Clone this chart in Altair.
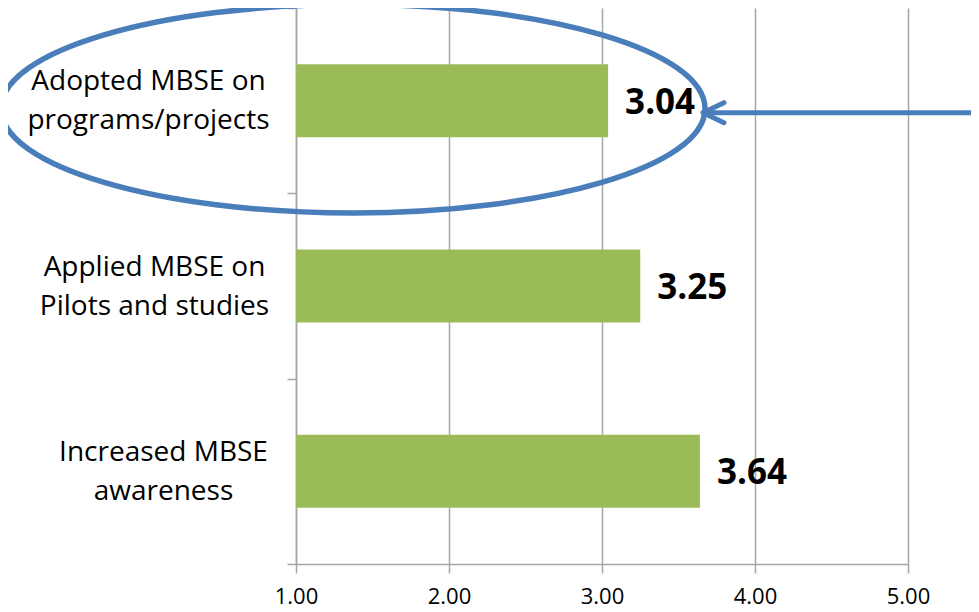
import altair as alt
import pandas as pd

categories = ["Adopted MBSE on|programs/projects", "Applied MBSE on|Pilots and studies", "Increased MBSE|awareness"]
values = [3.04, 3.25, 3.64]
value_labels = ["3.04", "3.25", "3.64"]
base = [1.0, 1.0, 1.0]
label_pad = [139, 133, 124]

# annotation (ellipse around first category, arrow pointing at its label)
ellipse_cat = [categories[0]]
ellipse_x = [1.3725]
arrow_cat = [categories[0]]
arrow_tip = [3.66]
arrow_tail = [5.5]

df = pd.DataFrame({"cat": categories, "value": values, "label": value_labels, "base": base})
df_ell = pd.DataFrame({"cat": ellipse_cat, "x": ellipse_x})
df_arr = pd.DataFrame({"cat": arrow_cat, "tip": arrow_tip, "tail": arrow_tail})

FONT = "Open Sans"
GRID = "#A6A6A6"
BLUE = "#4A7EBB"

xscale = alt.Scale(domain=[1, 5], nice=False, zero=False)
yscale = alt.Scale(domain=categories, paddingInner=0, paddingOuter=0)

pad_cond = {
    "condition": [
        {"test": f"datum.value == '{categories[0]}'", "value": label_pad[0]},
        {"test": f"datum.value == '{categories[1]}'", "value": label_pad[1]},
    ],
    "value": label_pad[2],
}

bars = alt.Chart(df).mark_bar(color="#9BBB59", size=73).encode(
    x=alt.X("value:Q", scale=xscale,
            axis=alt.Axis(values=[1, 2, 3, 4, 5], format=".2f", title=None,
                          grid=True, gridColor=GRID, gridWidth=1.5,
                          domainColor=GRID, domainWidth=1.5,
                          tickColor=GRID, tickWidth=1.5, tickSize=9,
                          labelFont=FONT, labelFontSize=22, labelColor="black",
                          labelFlush=False, labelPadding=13)),
    x2="base:Q",
    y=alt.Y("cat:N", scale=yscale, sort=categories,
            axis=alt.Axis(title=None, tickBand="extent", grid=False,
                          domainColor=GRID, domainWidth=1.5,
                          tickColor=GRID, tickWidth=1.5, tickSize=9,
                          labelExpr="split(datum.label, '|')",
                          labelAlign="center", labelBaseline="middle",
                          labelPadding=pad_cond, labelOffset=-19,
                          labelLineHeight=39,
                          labelFont=FONT, labelFontSize=28, labelColor="black",
                          labelLimit=0)),
)

texts = alt.Chart(df).mark_text(align="left", baseline="middle", dx=17, dy=2,
                                font=FONT, fontSize=35, fontWeight="bold",
                                color="black").encode(
    x=alt.X("value:Q", scale=xscale),
    y=alt.Y("cat:N", scale=yscale, sort=categories),
    text="label:N",
)

k = 0.2963
c = 0.5523
ell_path = (f"M-1,0 C-1,{-c*k:.4f} {-c:.4f},{-k:.4f} 0,{-k:.4f} "
            f"C{c:.4f},{-k:.4f} 1,{-c*k:.4f} 1,0 "
            f"C1,{c*k:.4f} {c:.4f},{k:.4f} 0,{k:.4f} "
            f"C{-c:.4f},{k:.4f} -1,{c*k:.4f} -1,0 Z")

ellipse = alt.Chart(df_ell).mark_point(shape=ell_path, size=704 * 704, filled=False,
                                       stroke=BLUE, strokeWidth=5.5, opacity=1,
                                       yOffset=8).encode(
    x=alt.X("x:Q", scale=xscale),
    y=alt.Y("cat:N", scale=yscale, sort=categories),
)

arrow_line = alt.Chart(df_arr).mark_rule(stroke=BLUE, strokeWidth=5, yOffset=12).encode(
    x=alt.X("tip:Q", scale=xscale),
    x2="tail:Q",
    y=alt.Y("cat:N", scale=yscale, sort=categories),
)

arrow_head = alt.Chart(df_arr).mark_point(shape="M1,-0.476 L0,0 L1,0.476", size=42 * 42,
                                          filled=False, stroke=BLUE, strokeWidth=5,
                                          strokeCap="round", strokeJoin="round",
                                          opacity=1, yOffset=12).encode(
    x=alt.X("tip:Q", scale=xscale),
    y=alt.Y("cat:N", scale=yscale, sort=categories),
)

chart = alt.layer(bars, texts, ellipse, arrow_line, arrow_head).properties(
    width=612, height=556,
    autosize=alt.AutoSizeParams(type="none"),
    padding={"left": 288, "top": 0, "right": 63, "bottom": 52},
).configure_view(stroke=None)

chart.save("out.html", embed_options={"renderer": "svg", "actions": False})
